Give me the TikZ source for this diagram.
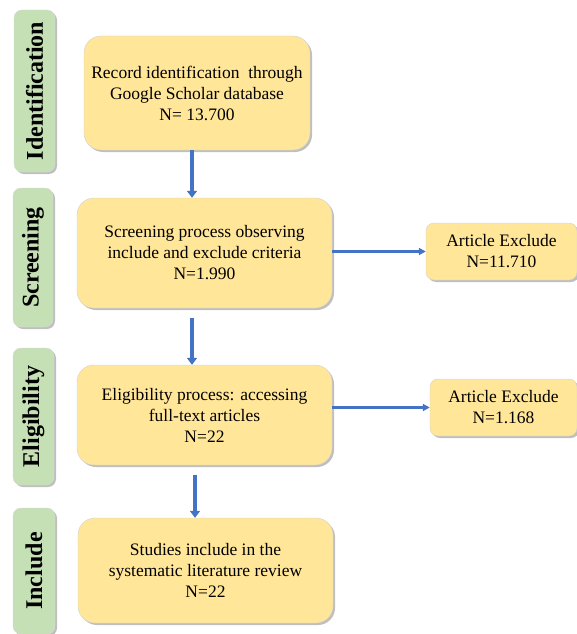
\documentclass[tikz,border=0pt]{standalone}
\usepackage{fontspec}
\setmainfont{Liberation Serif}
\usetikzlibrary{arrows.meta,shadows}
\definecolor{boxyellow}{HTML}{FFE699}
\definecolor{stagegreen}{HTML}{C5E0B4}
\definecolor{flowblue}{HTML}{4472C4}

\begin{document}
\begin{tikzpicture}[x=1pt,y=-1pt,
  softshadow/.style={drop shadow={shadow xshift=2pt,shadow yshift=-2pt,fill=black,opacity=0.25}},
  stage/.style={fill=stagegreen,draw=gray!30,rounded corners=8pt,inner sep=0pt,
    softshadow,font=\fontsize{24}{28}\selectfont\bfseries},
  procbox/.style={fill=boxyellow,draw=gray!35,rounded corners=17pt,inner sep=0pt,
    softshadow,align=center,font=\fontsize{17.5}{21}\selectfont},
  exclbox/.style={procbox,rounded corners=8pt},
  flow/.style={flowblue,line width=3.5pt,-{Triangle[length=7pt,width=10pt]}},
  side/.style={flowblue,line width=2.3pt,-{Triangle[length=7pt,width=7pt]}}]
  \useasboundingbox (0,0) rectangle (577,634);

  % stage bars on the left
  \node[stage,minimum width=41,minimum height=162] (idbar) at (34.5,91) {\rotatebox{90}{Identification}};
  \node[stage,minimum width=40,minimum height=139] (scbar) at (33,257.5) {\rotatebox{90}{Screening}};
  \node[stage,minimum width=41,minimum height=137] (elbar) at (33.5,416.5) {\rotatebox{90}{Eligibility}};
  \node[stage,minimum width=42,minimum height=126] (inbar) at (34,571) {\rotatebox{90}{Include}};

  % main flow
  \node[procbox,minimum width=226,minimum height=114] (rec) at (197,93)
    {Record identification\ \ through\\Google Scholar database\\N= 13.700};
  \node[procbox,minimum width=255,minimum height=110] (scr) at (204.5,253)
    {Screening process observing\\include and exclude criteria\\N=1.990};
  \node[procbox,minimum width=255,minimum height=100] (eli) at (204.5,415)
    {Eligibility process: accessing\\full-text articles\\N=22};
  \node[procbox,minimum width=255,minimum height=105] (inc) at (205.5,570.5)
    {Studies include in the\\systematic literature review\\N=22};

  % excluded records
  \node[exclbox,minimum width=151,minimum height=57] (exA) at (501.5,251.5)
    {Article Exclude\\N=11.710};
  \node[exclbox,minimum width=147,minimum height=57] (exB) at (503.5,407.5)
    {Article Exclude\\N=1.168};

  \draw[flow] ([xshift=-5pt]rec.south) -- ([xshift=-5pt]rec.south |- scr.north);
  \draw[flow] ([xshift=-12.5pt,yshift=-10pt]scr.south) -- ([xshift=-12.5pt]scr.south |- eli.north);
  \draw[flow] ([xshift=-9.5pt,yshift=-10pt]eli.south) -- ([xshift=-9.5pt]eli.south |- inc.north);
  \draw[side] (scr.east |- exA.west) -- (exA.west);
  \draw[side] (eli.east |- exB.west) -- (exB.west);
\end{tikzpicture}
\end{document}
